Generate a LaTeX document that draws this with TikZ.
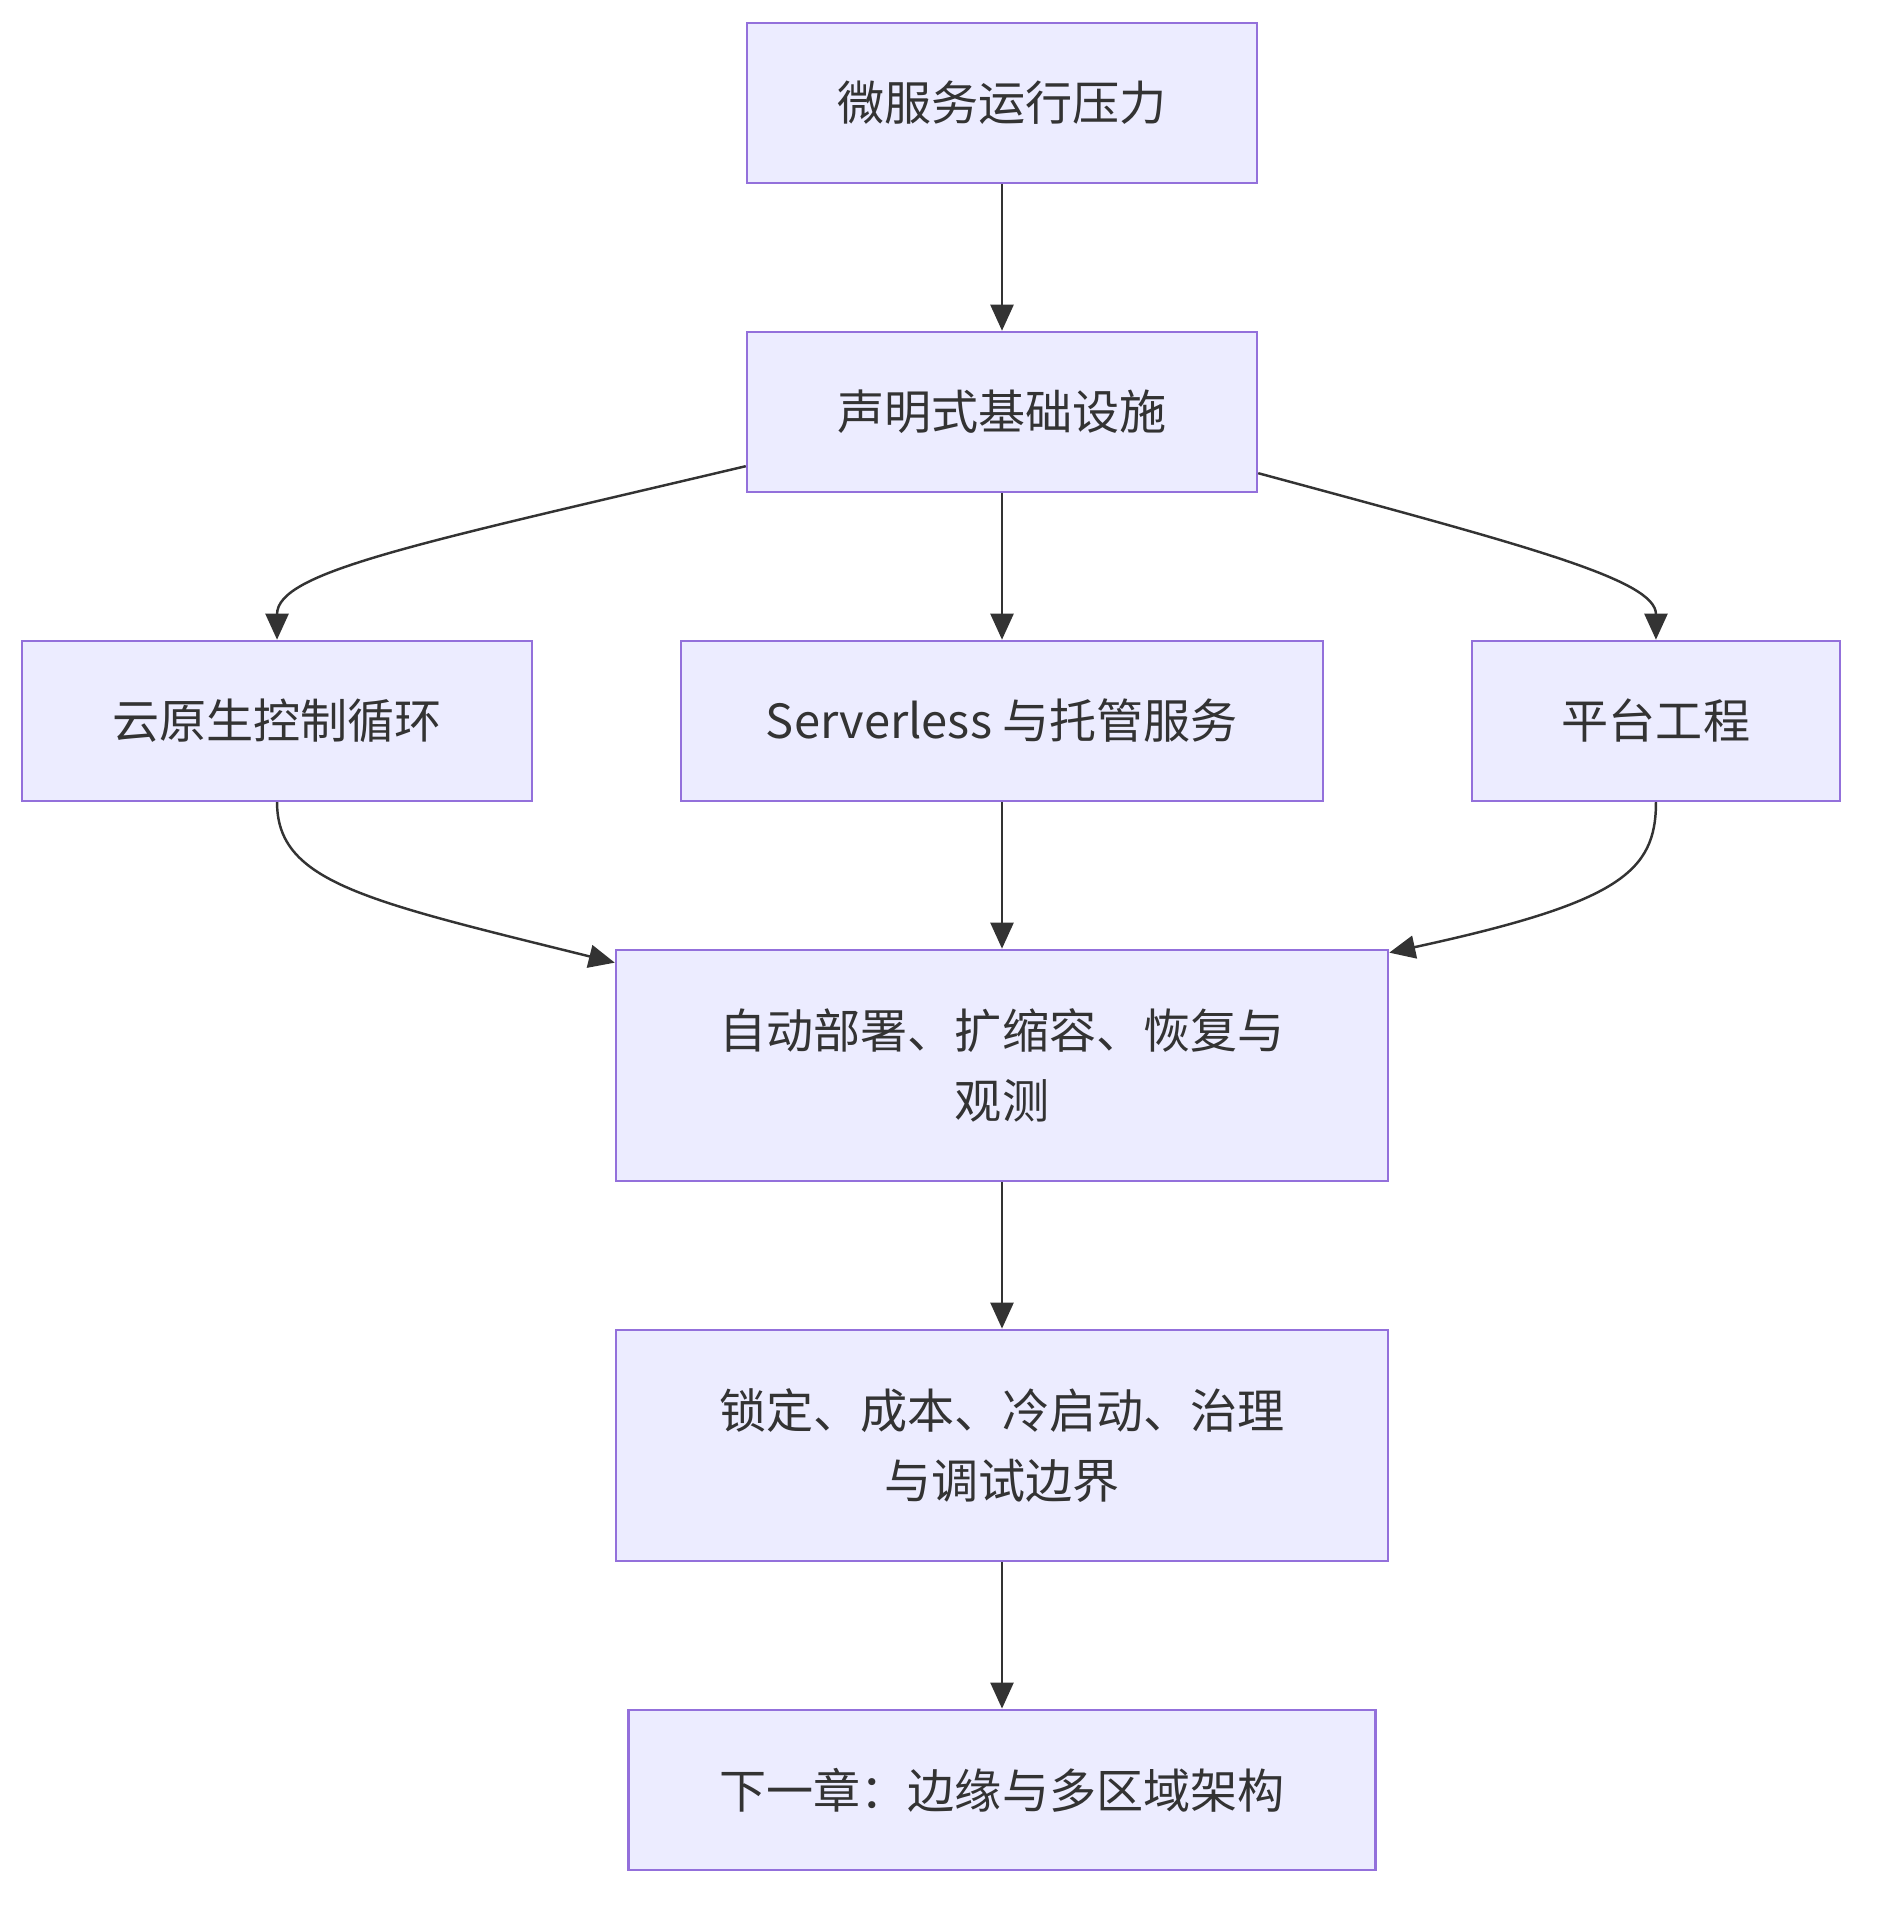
\documentclass[tikz,border=0pt]{standalone}
\usepackage{fontspec}
\setmainfont{Noto Sans CJK SC}
\usepackage{tikz}
\usetikzlibrary{
    arrows.meta,
    positioning
}
\definecolor{stagefill}{HTML}{ECECFF}
\definecolor{stageline}{HTML}{9370DB}
\definecolor{flowgray}{HTML}{333333}
\tikzset{
    % Box styles
    stage box/.style={
        draw=stageline,
        fill=stagefill,
        line width=0.7pt,
        rectangle,
        minimum height=1.6cm,
        align=center,
        text=flowgray,
        font=\fontsize{13.4pt}{19.8pt}\selectfont
    },
    % Arrow styles
    flow arrow/.style={
        -{Triangle[length=0.26cm,width=0.23cm]},
        line width=0.7pt,
        flowgray
    }
}

\begin{document}
\begin{tikzpicture}[node distance=1.465cm]
        \useasboundingbox (0,0) rectangle (18.87,-19.14);
        % Nodes
        \node[stage box, minimum width=5.1cm] (pressure) at (10.02,-1.03) {微服务运行压力};
        \node[stage box, minimum width=5.1cm, below=of pressure] (declarative) {声明式基础设施};
        \node[stage box, minimum width=6.42cm, below=of declarative] (serverless) {Serverless 与托管服务};
        \node[stage box, minimum width=5.1cm, left=of serverless] (cloudnative) {云原生控制循环};
        \node[stage box, minimum width=3.68cm, right=of serverless] (platform) {平台工程};
        \node[stage box, minimum width=7.72cm, minimum height=2.31cm, below=of serverless] (automation) {自动部署、扩缩容、恢复与\\观测};
        \node[stage box, minimum width=7.72cm, minimum height=2.31cm, below=of automation] (limits) {锁定、成本、冷启动、治理\\与调试边界};
        \node[stage box, minimum width=7.47cm, below=of limits] (nextchapter) {下一章：边缘与多区域架构};

        % Edges
        \draw[flow arrow] (pressure) -- (declarative);
        \draw[flow arrow] (declarative) -- (serverless);
        \draw[flow arrow] ([yshift=0.27cm]declarative.south west) .. controls +(-3.3,-0.78) and +(0,0.68) .. (cloudnative.north);
        \draw[flow arrow] ([yshift=0.2cm]declarative.south east) .. controls +(2.7,-0.73) and +(0,0.6) .. (platform.north);
        \draw[flow arrow] (serverless) -- (automation);
        \draw[flow arrow] (cloudnative.south) .. controls +(0,-0.8) and +(-2.5,0.62) .. ([yshift=-0.14cm]automation.north west);
        \draw[flow arrow] (platform.south) .. controls +(0,-0.7) and +(2.3,0.5) .. ([yshift=-0.04cm]automation.north east);
        \draw[flow arrow] (automation) -- (limits);
        \draw[flow arrow] (limits) -- (nextchapter);
    \end{tikzpicture}
\end{document}
